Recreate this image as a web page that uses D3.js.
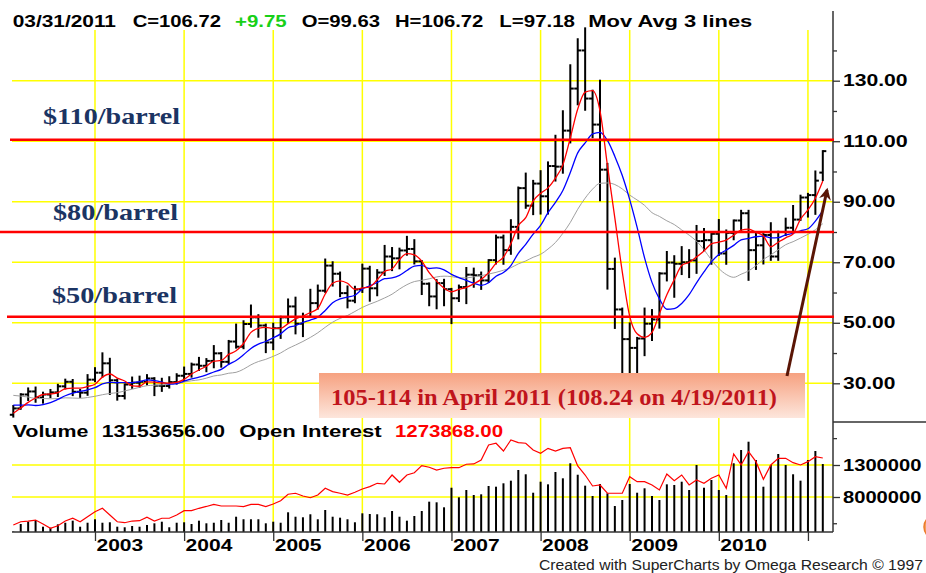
<!DOCTYPE html>
<html>
<head>
<meta charset="utf-8">
<script src="https://cdn.jsdelivr.net/npm/d3@7"></script>
<style>
  body { margin: 0; background: #fff; }
  svg { display: block; }
</style>
</head>
<body>
<svg id="chart" width="926" height="573"></svg>
<script>
// monthly crude oil bars, Feb 2002 .. Mar 2011
const opens = [
  19.6, 21.7, 26.3, 27.3, 25.3, 26.3, 27.0, 29.0, 30.5, 27.2, 26.9,
  31.2, 33.5, 36.6, 31.0, 25.8, 29.6, 30.2, 30.5, 31.6, 29.2, 29.1, 30.4,
  32.5, 33.1, 36.2, 35.8, 37.4, 39.9, 37.1, 43.8, 42.1, 49.6, 51.8, 49.1,
  43.5, 48.2, 51.8, 55.4, 49.7, 52.0, 56.5, 60.6, 68.9, 66.2, 59.8, 57.3,
  61.0, 67.9, 61.4, 66.6, 71.9, 71.3, 73.9, 74.4, 70.3, 62.9, 58.7, 63.1,
  61.1, 58.1, 61.8, 65.9, 65.7, 64.0, 70.7, 78.2, 74.0, 81.7, 94.5, 88.7,
  96.0, 91.8, 101.8, 101.6, 113.5, 127.4, 140.0, 124.1, 115.5, 100.6, 67.8, 54.4,
  44.6, 41.7, 44.8, 49.7, 51.1, 66.3, 69.9, 69.5, 70.0, 70.6, 77.0, 77.3,
  79.4, 72.9, 79.7, 83.8, 86.2, 74.0, 75.6, 79.0, 71.9, 80.0, 81.4, 84.1,
  91.4, 92.2, 99.63
];
const highs = [
  22.5, 26.4, 28.3, 28.6, 26.9, 27.8, 29.5, 31.2, 31.1, 27.8, 32.7,
  35.0, 39.9, 38.1, 31.2, 29.6, 31.9, 32.2, 32.7, 31.7, 31.5, 32.0, 33.0,
  35.2, 36.5, 38.4, 38.0, 42.3, 40.0, 44.0, 49.4, 50.5, 55.7, 52.5, 49.4,
  49.7, 52.0, 57.7, 58.3, 53.0, 60.9, 62.3, 70.9, 70.0, 66.6, 62.0, 61.9,
  69.2, 68.5, 67.4, 75.4, 74.7, 74.5, 78.4, 77.3, 70.4, 63.0, 64.1, 64.2,
  61.2, 62.3, 68.1, 67.9, 66.6, 70.7, 78.8, 78.8, 83.9, 94.7, 99.3, 96.9,
  100.1, 103.0, 111.8, 119.9, 135.1, 143.7, 147.3, 126.7, 130.0, 102.5, 71.2, 54.7,
  49.8, 45.0, 54.7, 54.2, 66.4, 73.4, 72.0, 75.0, 74.0, 82.0, 81.0, 80.0,
  83.95, 80.5, 83.8, 87.0, 87.0, 79.4, 79.3, 82.9, 80.1, 84.4, 88.6, 92.0,
  92.6, 100.0, 106.72
];
const lows = [
  19.0, 21.6, 24.5, 23.9, 23.6, 25.4, 25.8, 28.3, 26.1, 25.5, 26.2,
  30.7, 32.2, 26.5, 24.6, 25.0, 28.5, 28.8, 29.6, 26.1, 27.5, 28.6, 29.9,
  31.1, 32.2, 34.4, 34.0, 35.3, 35.5, 36.6, 41.8, 41.6, 48.7, 45.4, 40.3,
  41.3, 45.0, 50.0, 46.5, 45.6, 52.0, 54.7, 60.2, 62.3, 58.8, 55.1, 56.8,
  60.2, 57.3, 59.1, 65.8, 67.4, 68.0, 72.5, 69.6, 59.5, 55.8, 54.8, 55.8,
  49.9, 57.2, 56.5, 61.9, 61.2, 63.5, 69.6, 69.5, 72.8, 77.9, 88.0, 85.9,
  86.1, 86.1, 97.0, 99.6, 109.6, 122.2, 120.4, 111.3, 90.5, 61.3, 48.3, 33.2,
  33.6, 33.6, 39.3, 44.3, 48.4, 64.0, 58.6, 66.1, 65.1, 66.5, 74.0, 69.5,
  72.4, 69.5, 77.6, 80.5, 64.2, 67.8, 69.6, 70.8, 70.8, 79.0, 80.0, 84.0,
  85.1, 86.0, 97.18
];
const closes = [
  21.7, 26.3, 27.3, 25.3, 26.3, 27.0, 29.0, 30.5, 27.2, 26.9, 31.2,
  33.5, 36.6, 31.0, 25.8, 29.6, 30.2, 30.5, 31.6, 29.2, 29.1, 30.4, 32.5,
  33.1, 36.2, 35.8, 37.4, 39.9, 37.1, 43.8, 42.1, 49.6, 51.8, 49.1, 43.5,
  48.2, 51.8, 55.4, 49.7, 52.0, 56.5, 60.6, 68.9, 66.2, 59.8, 57.3, 61.0,
  67.9, 61.4, 66.6, 71.9, 71.3, 73.9, 74.4, 70.3, 62.9, 58.7, 63.1, 61.1,
  58.1, 61.8, 65.9, 65.7, 64.0, 70.7, 78.2, 74.0, 81.7, 94.5, 88.7, 96.0,
  91.8, 101.8, 101.6, 113.5, 127.4, 140.0, 124.1, 115.5, 100.6, 67.8, 54.4, 44.6,
  41.7, 44.8, 49.7, 51.1, 66.3, 69.9, 69.5, 70.0, 70.6, 77.0, 77.3, 79.4,
  72.9, 79.7, 83.8, 86.2, 74.0, 75.6, 79.0, 71.9, 80.0, 81.4, 84.1, 91.4,
  92.2, 96.97, 106.72
];
// closes before the visible window (Sep 2000 .. Jan 2002), needed for the averages
const priorCloses = [30.8, 32.7, 33.8, 26.8, 28.7, 27.4, 26.3, 28.5, 28.4, 26.3, 26.4, 27.2, 23.4, 21.2, 19.4, 19.8, 19.5];
const avgLengths = [18, 9, 4];
const avgColors = ['#a0a0a0', '#0000ff', '#ff0000'];

// volume in millions
const volumeM = [
  2.6, 3.78, 4.14, 4.41, 3.36, 3.20, 3.73, 3.98, 4.30, 3.36, 3.98,
  4.52, 3.98, 4.05, 3.36, 3.27, 3.47, 3.36, 3.63, 3.89, 4.14, 3.27, 3.98,
  4.05, 3.78, 4.30, 3.89, 3.98, 4.41, 3.98, 4.92, 4.52, 4.52, 4.52, 3.89,
  4.14, 3.98, 5.61, 4.92, 4.83, 5.30, 4.52, 5.97, 4.92, 4.77, 4.52, 4.05,
  5.45, 5.34, 5.30, 4.83, 5.81, 4.92, 4.30, 5.03, 5.81, 7.27, 7.17, 6.39,
  9.45, 7.95, 9.09, 8.31, 8.42, 9.72, 9.61, 10.14, 10.55, 12.22, 11.55, 8.67,
  10.39, 9.98, 11.91, 10.92, 13.27, 11.48, 9.77, 8.16, 10.03, 8.58, 6.59, 7.53,
  10.03, 8.67, 9.36, 8.16, 7.53, 9.98, 9.88, 10.39, 9.09, 13.0, 9.45, 10.66,
  9.09, 8.31, 13.27, 15.34, 16.64, 13.78, 9.61, 13.0, 14.72, 13.0, 11.55, 10.55,
  13.78, 15.19, 13.15
];
// open interest in thousands
const openInterestK = [
  400, 443, 452, 465, 413, 357, 391, 452, 488, 443, 509,
  574, 618, 531, 443, 430, 452, 456, 501, 452, 488, 488, 531,
  587, 587, 618, 642, 670, 648, 648, 648, 639, 670, 670, 639,
  674, 717, 801, 814, 778, 756, 791, 879, 835, 814, 791, 827,
  870, 900, 944, 935, 1052, 957, 1052, 1082, 1174, 1153, 1117, 1140,
  1147, 1147, 1192, 1196, 1248, 1443, 1466, 1365, 1509, 1474, 1466, 1378,
  1335, 1400, 1365, 1400, 1408, 1170, 1052, 909, 922, 814, 814, 814,
  1030, 965, 965, 922, 857, 1065, 978, 1052, 922, 987, 944, 1009,
  1052, 879, 1326, 1183, 1356, 1226, 996, 1183, 1270, 1270, 1213, 1183,
  1226, 1291, 1274
];

const priceTicks = [130, 110, 90, 70, 50, 30];
const priceMinorTicks = [140, 120, 100, 80, 60, 40];
const volTicks = [13, 8];
const volTickLabels = ['1300000', '8000000'];
const barrelLevels = [110.5, 80, 52];
const barrelLabels = ['$110/barrel', '$80/barrel', '$50/barrel'];
const noteText = '105-114 in April 2011 (108.24 on 4/19/2011)';

const svg = d3.select('#chart');
const sans = "'Liberation Sans', Arial, sans-serif";
const serif = "'Liberation Serif', 'Times New Roman', serif";
const axisX = 833;
const left = 12;
const volBottom = 532;

svg.append('rect').attr('width', 926).attr('height', 573).attr('fill', '#fff');

const months = d3.timeMonth.range(new Date(2002, 1, 1), new Date(2011, 3, 1));
const x = d3.scalePoint().domain(d3.range(months.length)).range([13.3, 822.8]);
const y = d3.scaleLinear().domain([30, 130]).range([383.3, 80.7]);
const yVol = d3.scaleLinear().domain([8, 13]).range([497, 465]);
const yOI = d3.scaleLinear().domain([309, 1743]).range([volBottom, 422]);

const januaries = d3.range(months.length).filter(i => months[i].getMonth() === 0);

// grid
const grid = svg.append('g').attr('stroke', '#ffff00').attr('stroke-width', 1.5);
grid.selectAll('.vg').data(januaries).join('line')
  .attr('x1', i => x(i)).attr('x2', i => x(i)).attr('y1', 30).attr('y2', volBottom);
grid.selectAll('.hg').data(priceTicks).join('line')
  .attr('x1', left).attr('x2', axisX).attr('y1', d => y(d)).attr('y2', d => y(d));
grid.selectAll('.vh').data(volTicks).join('line')
  .attr('x1', left).attr('x2', axisX).attr('y1', d => yVol(d)).attr('y2', d => yVol(d));

// volume bars + open interest
svg.append('g').selectAll('line').data(volumeM).join('line')
  .attr('x1', (d, i) => x(i)).attr('x2', (d, i) => x(i))
  .attr('y1', volBottom).attr('y2', d => Math.min(volBottom, yVol(d)))
  .attr('stroke', '#000').attr('stroke-width', 2);

svg.append('path').datum(openInterestK)
  .attr('fill', 'none').attr('stroke', '#ff0000').attr('stroke-width', 1.2)
  .attr('d', d3.line().x((d, i) => x(i)).y(d => yOI(d)));

// price bars
const bars = svg.append('g').attr('stroke', '#000').attr('stroke-width', 2);
closes.forEach((c, i) => {
  const cx = x(i);
  bars.append('line').attr('x1', cx).attr('x2', cx).attr('y1', y(highs[i]) - 1).attr('y2', y(lows[i]) + 1);
  bars.append('line').attr('x1', cx - 3.5).attr('x2', cx).attr('y1', y(opens[i])).attr('y2', y(opens[i]));
  bars.append('line').attr('x1', cx).attr('x2', cx + 3.5).attr('y1', y(c)).attr('y2', y(c));
});

// moving averages of the closes
const allCloses = priorCloses.concat(closes);
avgLengths.forEach((n, k) => {
  const avg = closes.map((c, i) => {
    const end = i + priorCloses.length + 1;
    return d3.mean(allCloses.slice(end - n, end));
  });
  svg.append('path').datum(avg)
    .attr('fill', 'none').attr('stroke', avgColors[k]).attr('stroke-width', k === 0 ? 1 : 1.3)
    .attr('d', d3.line().x((d, i) => x(i)).y(d => y(d)).curve(d3.curveMonotoneX));
});

// axes
const axisColor = '#333';
const gPrice = svg.append('g').attr('transform', `translate(${axisX},0)`)
  .call(d3.axisRight(y).tickValues(priceTicks).tickFormat(d3.format('.2f')).tickSize(7).tickPadding(3));
gPrice.select('.domain').remove();
gPrice.selectAll('.tick line').attr('stroke', axisColor).attr('stroke-width', 1.3);
gPrice.selectAll('text')
  .attr('font-family', sans).attr('font-weight', 'bold').attr('font-size', 16).attr('fill', '#000')
  .attr('lengthAdjust', 'spacingAndGlyphs')
  .attr('textLength', d => (d3.format('.2f')(d).length - 1) * 12.2 + 3.6);

const gMinor = svg.append('g').attr('transform', `translate(${axisX},0)`)
  .call(d3.axisRight(y).tickValues(priceMinorTicks).tickFormat('').tickSize(4));
gMinor.select('.domain').remove();
gMinor.selectAll('.tick line').attr('stroke', axisColor).attr('stroke-width', 1.3);

const gVol = svg.append('g').attr('transform', `translate(${axisX},0)`)
  .call(d3.axisRight(yVol).tickValues(volTicks).tickFormat((d, i) => volTickLabels[i]).tickSize(7).tickPadding(3));
gVol.select('.domain').remove();
gVol.selectAll('.tick line').attr('stroke', axisColor).attr('stroke-width', 1.3);
gVol.selectAll('text')
  .attr('font-family', sans).attr('font-weight', 'bold').attr('font-size', 16).attr('fill', '#000')
  .attr('lengthAdjust', 'spacingAndGlyphs').attr('textLength', 78.4);

const gVolMinor = svg.append('g').attr('transform', `translate(${axisX},0)`)
  .call(d3.axisRight(yVol).tickValues([17.2, 3.9]).tickFormat('').tickSize(4));
gVolMinor.select('.domain').remove();
gVolMinor.selectAll('.tick line').attr('stroke', axisColor).attr('stroke-width', 1.3);

const gTime = svg.append('g').attr('transform', `translate(0,${volBottom})`)
  .call(d3.axisBottom(x).tickValues(januaries).tickSize(9).tickPadding(2)
    .tickFormat(i => months[i].getFullYear() < 2011 ? months[i].getFullYear() : ''));
gTime.select('.domain').remove();
gTime.selectAll('.tick line').attr('stroke', axisColor).attr('stroke-width', 1.3);
gTime.selectAll('text')
  .attr('font-family', sans).attr('font-weight', 'bold').attr('font-size', 16).attr('fill', '#000')
  .attr('text-anchor', 'start').attr('x', 1).attr('y', 8).attr('dy', '0.71em')
  .attr('lengthAdjust', 'spacingAndGlyphs').attr('textLength', 46.7);

svg.append('line').attr('x1', axisX).attr('x2', axisX).attr('y1', 11).attr('y2', volBottom)
  .attr('stroke', axisColor).attr('stroke-width', 1.5);
svg.append('line').attr('x1', left).attr('x2', axisX).attr('y1', volBottom).attr('y2', volBottom)
  .attr('stroke', axisColor).attr('stroke-width', 1.5);
svg.append('line').attr('x1', axisX).attr('x2', 926).attr('y1', 422).attr('y2', 422)
  .attr('stroke', axisColor).attr('stroke-width', 1.3);

// header texts
function txt(str, tx, ty, w, color, opts = {}) {
  return svg.append('text').attr('x', tx).attr('y', ty).text(str)
    .attr('font-family', opts.family || sans)
    .attr('font-weight', opts.weight || 'bold')
    .attr('font-size', opts.size || 16)
    .attr('fill', color)
    .attr('lengthAdjust', 'spacingAndGlyphs').attr('textLength', w);
}
txt('03/31/2011', 12.7, 26.7, 103.3, '#000');
txt('C=106.72', 132.7, 26.7, 88.3, '#000');
txt('+9.75', 235, 26.7, 51.7, '#18d018');
txt('O=99.63', 301.7, 26.7, 78.3, '#000');
txt('H=106.72', 395, 26.7, 88.3, '#000');
txt('L=97.18', 499.3, 26.7, 75.7, '#000');
txt('Mov Avg 3 lines', 588.3, 26.7, 164, '#000');

txt('Volume', 12.7, 436.7, 75.6, '#000');
txt('13153656.00', 101.7, 436.7, 123.3, '#000');
txt('Open Interest', 239.3, 436.7, 142.4, '#000');
txt('1273868.00', 395, 436.7, 108, '#ff0000');

txt('Created with SuperCharts by Omega Research \u00a9 1997', 539, 570, 384, '#222', { weight: 'normal', size: 14 });

// barrel levels
svg.append('g').selectAll('line').data(barrelLevels).join('line')
  .attr('x1', (d, i) => [10, 0, 7][i]).attr('x2', axisX + 1)
  .attr('y1', d => y(d)).attr('y2', d => y(d))
  .attr('stroke', '#ff0000').attr('stroke-width', 2.6);

const labelPos = [[43, 124, 137], [53, 220, 125], [52, 303, 125]];
barrelLabels.forEach((s, i) => {
  txt(s, labelPos[i][0], labelPos[i][1], labelPos[i][2], '#1b3463', { family: serif, size: 24 });
});

// annotation box
const defs = svg.append('defs');
const grad = defs.append('linearGradient').attr('id', 'boxGrad').attr('x1', 0).attr('x2', 0).attr('y1', 0).attr('y2', 1);
grad.append('stop').attr('offset', '0%').attr('stop-color', '#f6a180');
grad.append('stop').attr('offset', '100%').attr('stop-color', '#fde6dc');
defs.append('marker').attr('id', 'arrowHead')
  .attr('viewBox', '0 0 10 10').attr('refX', 8).attr('refY', 5)
  .attr('markerUnits', 'userSpaceOnUse').attr('markerWidth', 14).attr('markerHeight', 12)
  .attr('orient', 'auto')
  .append('path').attr('d', 'M0,0L10,5L0,10L3,5z').attr('fill', '#5a1505');

svg.append('rect').attr('x', 319).attr('y', 373).attr('width', 486).attr('height', 45)
  .attr('fill', 'url(#boxGrad)');
txt(noteText, 331, 405, 446, '#c0141c', { family: serif, size: 24 });

svg.append('line').attr('x1', 787).attr('y1', 376).attr('x2', 827).attr('y2', 190)
  .attr('stroke', '#5a1505').attr('stroke-width', 3).attr('marker-end', 'url(#arrowHead)');

// small orange edge at right
svg.append('circle').attr('cx', 936).attr('cy', 527).attr('r', 12)
  .attr('fill', '#f4a15a').attr('stroke', '#ec7a2c').attr('stroke-width', 1.5);
</script>
</body>
</html>
